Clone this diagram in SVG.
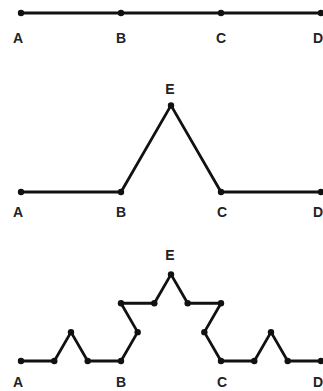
<svg xmlns="http://www.w3.org/2000/svg" width="323" height="391" viewBox="0 0 323 391">
<style>
.ln{fill:none;stroke:#111;stroke-width:2.8;stroke-linejoin:round;stroke-linecap:round}
.dot{fill:#111}
.lb{font-family:"Liberation Sans",Arial,sans-serif;font-weight:bold;font-size:14px;fill:#222;text-anchor:middle}
</style>
<rect width="323" height="391" fill="#fff"/>
<g id="connectors">
<polyline class="ln" points="21,13 321,13"/>
<polyline class="ln" points="21,192 121,192 171,105.4 221,192 321,192"/>
<polyline class="ln" points="21,361 54.33,361 71,332.13 87.67,361 121,361 137.67,332.13 121,303.27 154.33,303.27 171,274.4 187.67,303.27 221,303.27 204.33,332.13 221,361 254.33,361 271,332.13 287.67,361 321,361"/>
</g>
<g id="fig1">
<g id="f1-A"><circle class="dot" cx="21" cy="13" r="3.2"/><text class="lb" x="18" y="43">A</text></g>
<g id="f1-B"><circle class="dot" cx="121" cy="13" r="3.2"/><text class="lb" x="121" y="43">B</text></g>
<g id="f1-C"><circle class="dot" cx="221" cy="13" r="3.2"/><text class="lb" x="221" y="43">C</text></g>
<g id="f1-D"><circle class="dot" cx="321" cy="13" r="3.2"/><text class="lb" x="318" y="43">D</text></g>
</g>
<g id="fig2">
<g id="f2-A"><circle class="dot" cx="21" cy="192" r="3.2"/><text class="lb" x="18" y="217">A</text></g>
<g id="f2-B"><circle class="dot" cx="121" cy="192" r="3.2"/><text class="lb" x="121" y="217">B</text></g>
<g id="f2-C"><circle class="dot" cx="221" cy="192" r="3.2"/><text class="lb" x="222" y="217">C</text></g>
<g id="f2-D"><circle class="dot" cx="321" cy="192" r="3.2"/><text class="lb" x="318" y="217">D</text></g>
<g id="f2-E"><circle class="dot" cx="171" cy="105.4" r="3.2"/><text class="lb" x="170" y="94">E</text></g>
</g>
<g id="fig3">
<g id="f3-A"><circle class="dot" cx="21" cy="361" r="3.2"/><text class="lb" x="18" y="387">A</text></g>
<g id="f3-p1"><circle class="dot" cx="54.33" cy="361" r="3.2"/></g>
<g id="f3-p2"><circle class="dot" cx="71" cy="332.13" r="3.2"/></g>
<g id="f3-p3"><circle class="dot" cx="87.67" cy="361" r="3.2"/></g>
<g id="f3-B"><circle class="dot" cx="121" cy="361" r="3.2"/><text class="lb" x="121" y="387">B</text></g>
<g id="f3-p4"><circle class="dot" cx="137.67" cy="332.13" r="3.2"/></g>
<g id="f3-p5"><circle class="dot" cx="121" cy="303.27" r="3.2"/></g>
<g id="f3-p6"><circle class="dot" cx="154.33" cy="303.27" r="3.2"/></g>
<g id="f3-E"><circle class="dot" cx="171" cy="274.4" r="3.2"/><text class="lb" x="170" y="260">E</text></g>
<g id="f3-p7"><circle class="dot" cx="187.67" cy="303.27" r="3.2"/></g>
<g id="f3-p8"><circle class="dot" cx="221" cy="303.27" r="3.2"/></g>
<g id="f3-p9"><circle class="dot" cx="204.33" cy="332.13" r="3.2"/></g>
<g id="f3-C"><circle class="dot" cx="221" cy="361" r="3.2"/><text class="lb" x="222" y="387">C</text></g>
<g id="f3-p10"><circle class="dot" cx="254.33" cy="361" r="3.2"/></g>
<g id="f3-p11"><circle class="dot" cx="271" cy="332.13" r="3.2"/></g>
<g id="f3-p12"><circle class="dot" cx="287.67" cy="361" r="3.2"/></g>
<g id="f3-D"><circle class="dot" cx="321" cy="361" r="3.2"/><text class="lb" x="318" y="387">D</text></g>
</g>
</svg>
